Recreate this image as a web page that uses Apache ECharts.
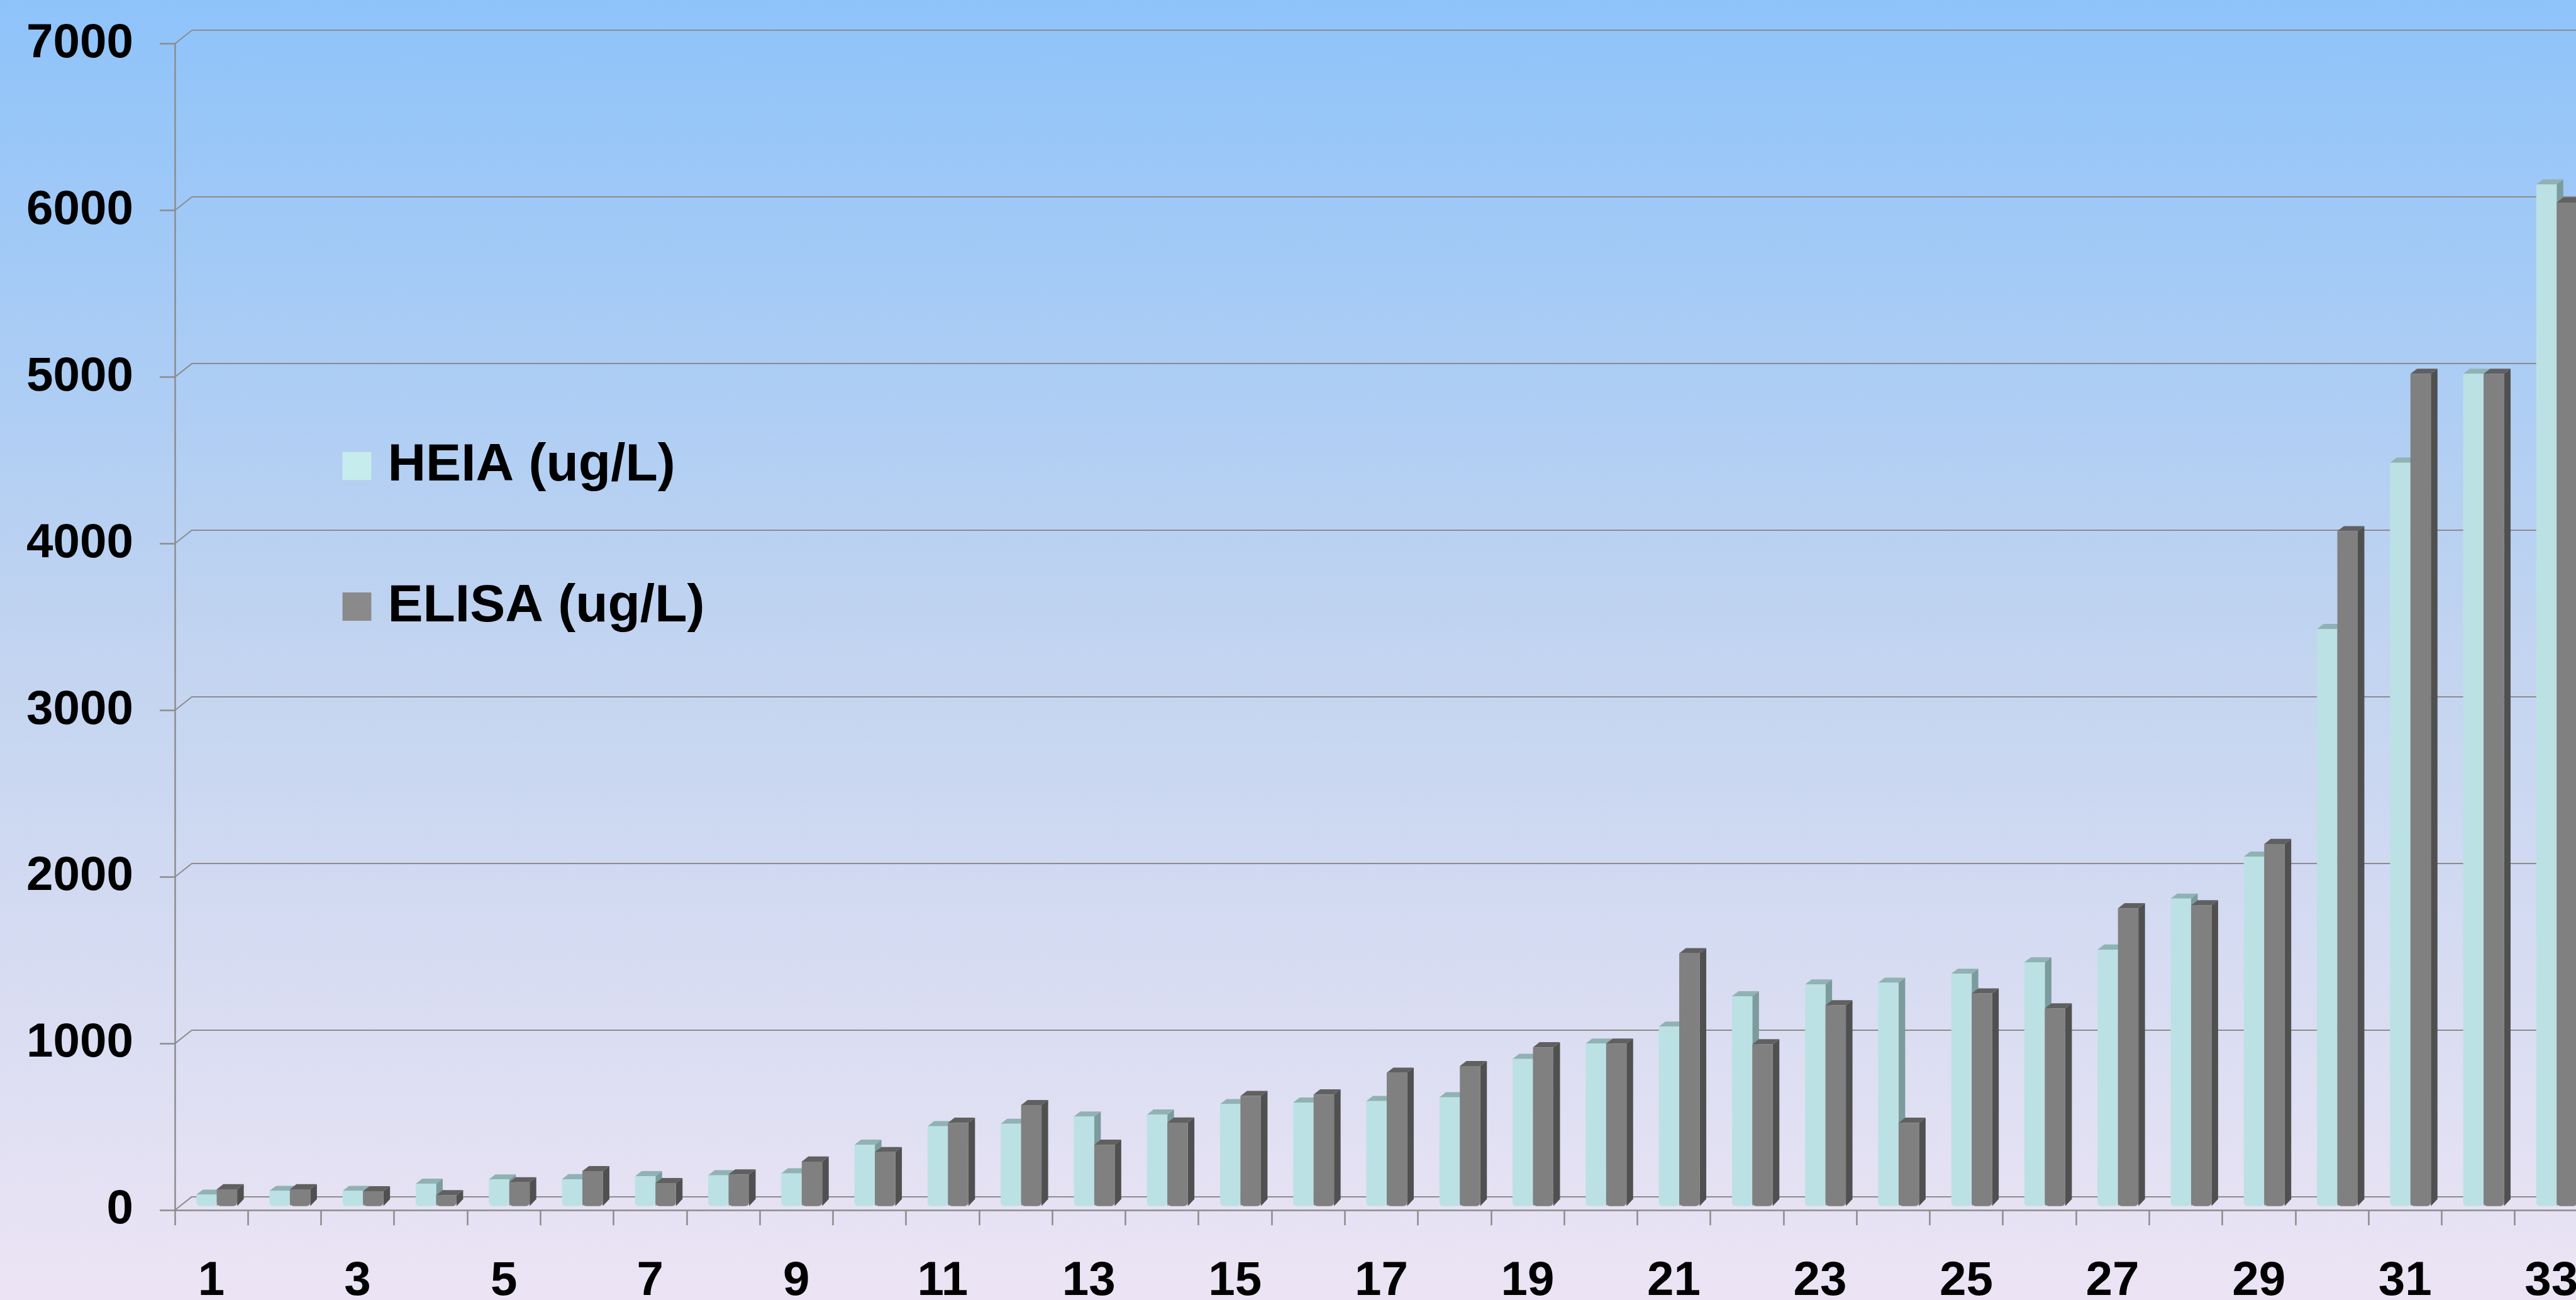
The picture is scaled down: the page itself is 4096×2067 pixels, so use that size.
<!DOCTYPE html>
<html><head><meta charset="utf-8">
<script src="https://cdn.jsdelivr.net/npm/echarts@6/dist/echarts.min.js"></script>
<style>html,body{margin:0;padding:0;overflow:hidden;background:#fff}#c{width:4096px;height:2067px}</style>
</head><body><div id="c"></div>
<script>
// ---- data ----
const categories = ['1','2','3','4','5','6','7','8','9','10','11','12','13','14','15','16','17','18','19','20','21','22','23','24','25','26','27','28','29','30','31','32','33'];
const heiaValues  = [68, 91, 91, 134, 160, 161, 179, 185, 196, 368, 479, 494, 537, 549, 612, 621, 630, 653, 883, 975, 1077, 1259, 1330, 1340, 1394, 1463, 1539, 1845, 2097, 3463, 4461, 4995, 6131];
const elisaValues = [101, 101, 89, 65, 143, 210, 138, 190, 267, 324, 500, 606, 368, 501, 661, 670, 800, 840, 953, 975, 1517, 971, 1205, 500, 1276, 1186, 1787, 1805, 2173, 4050, 4995, 4995, 6023];
const yTicks = [0, 1000, 2000, 3000, 4000, 5000, 6000, 7000];
const seriesNames = ['HEIA (ug/L)', 'ELISA (ug/L)'];

// ---- layout / style ----
const S = 0.955;
const W = 4096, H = 2067;
const FRONT = { left: 291 * S, top: 73 * S, width: 33 * 121.75 * S, height: (2015 - 73) * S };
const BACK_DX = 29 * S, BACK_DY = -23 * S;
const BAR_DX = 9 * S, BAR_DY = -7 * S;
const DEPTH_DX = 11 * S, DEPTH_DY = -8.5 * S;
const BAR_W_RATIO = 34 / 121.75;
const LINE_COLOR = '#8c8c8c';
const FONT = 'Liberation Sans, Arial, sans-serif';

const heiaColors  = { front: '#bbe1e4', top: '#90b2b3', side: '#7b9b9c' };
const elisaColors = { front: '#808080', top: '#606060', side: '#505050' };

function barRenderer(sideIdx, colors) {
  return function (params, api) {
    const ci = api.value(0), v = api.value(1);
    const base = api.coord([ci, 0]);
    const top = api.coord([ci, v]);
    const band = api.size([1, 0])[0];
    const w = band * BAR_W_RATIO;
    const cx = base[0] + BAR_DX;
    const x0 = sideIdx === 0 ? cx - w : cx;
    const x1 = x0 + w;
    const yb = base[1] + BAR_DY;
    const yt = top[1] + BAR_DY;
    return {
      type: 'group',
      children: [
        { type: 'polygon', shape: { points: [[x1, yt], [x1 + DEPTH_DX, yt + DEPTH_DY], [x1 + DEPTH_DX, yb + DEPTH_DY - 3], [x1, yb]] }, style: { fill: colors.side } },
        { type: 'polygon', shape: { points: [[x0, yt], [x1, yt], [x1 + DEPTH_DX, yt + DEPTH_DY], [x0 + DEPTH_DX, yt + DEPTH_DY]] }, style: { fill: colors.top } },
        { type: 'rect', shape: { x: x0, y: yt, width: w, height: yb - yt, r: [0, 0, 6, 6] }, style: { fill: colors.front } }
      ]
    };
  };
}

const chart = echarts.init(document.getElementById('c'), null, { renderer: 'canvas', width: W, height: H });
const labelStyle = { fontSize: 80 * S, fontWeight: 'bold', fontFamily: FONT, color: '#000' };

chart.setOption({
  animation: false,
  graphic: [{
    type: 'rect', z: -10, silent: true,
    shape: { x: 0, y: 0, width: W, height: H },
    style: { fill: { type: 'linear', x: 0, y: 0, x2: 0, y2: 1, colorStops: [
      { offset: 0, color: '#8ec3fa' }, { offset: 0.5, color: '#c2d4f0' }, { offset: 1, color: '#ece4f4' } ] } }
  }],
  legend: {
    orient: 'vertical', left: 565 * S, top: 735 * S - 44 * S + 34,
    itemWidth: 48 * S, itemHeight: 47 * S, itemGap: 229 * S - 88 * S + 5,
    icon: 'rect', selectedMode: false,
    textStyle: { fontSize: 88 * S, fontWeight: 'bold', fontFamily: FONT, color: '#000', padding: [0, 0, 0, 22 * S] },
    data: seriesNames
  },
  grid: [
    { left: FRONT.left, top: FRONT.top, width: FRONT.width, height: FRONT.height, containLabel: false, outerBoundsMode: 'none' },
    { left: FRONT.left + BACK_DX, top: FRONT.top + BACK_DY, width: FRONT.width, height: FRONT.height, containLabel: false, outerBoundsMode: 'none' }
  ],
  xAxis: [
    { gridIndex: 0, type: 'category', data: categories, boundaryGap: true,
      axisLine: { show: true, lineStyle: { color: LINE_COLOR, width: 2.5 } },
      axisTick: { show: true, interval: 0, length: 25 * S, lineStyle: { color: LINE_COLOR, width: 2.5 } },
      axisLabel: Object.assign({ interval: 1, margin: 76, hideOverlap: false }, labelStyle),
      splitLine: { show: false } },
    { gridIndex: 1, type: 'category', data: categories, show: false }
  ],
  yAxis: [
    { gridIndex: 0, type: 'value', min: 0, max: 7000, interval: 1000,
      axisLine: { show: true, lineStyle: { color: LINE_COLOR, width: 2.5 } },
      axisTick: { show: true, length: 25 * S, lineStyle: { color: LINE_COLOR, width: 2.5 } },
      axisLabel: Object.assign({ margin: 66, padding: [20, 0, 0, 0], formatter: v => String(v) }, labelStyle),
      splitLine: { show: false } },
    { gridIndex: 1, type: 'value', min: 0, max: 7000, interval: 1000,
      axisLine: { show: false }, axisTick: { show: false }, axisLabel: { show: false },
      splitLine: { show: true, lineStyle: { color: LINE_COLOR, width: 2 } } }
  ],
  series: [
    { name: 'connectors', type: 'custom', xAxisIndex: 0, yAxisIndex: 0, silent: true, z: 1,
      data: yTicks.map(v => [0, v]),
      renderItem: function (params, api) {
        const p = api.coord([0, api.value(1)]);
        const band = api.size([1, 0])[0];
        const x = p[0] - band / 2;
        return { type: 'line', shape: { x1: x, y1: p[1], x2: x + BACK_DX, y2: p[1] + BACK_DY }, style: { stroke: LINE_COLOR, lineWidth: 2 } };
      } },
    { name: seriesNames[0], type: 'custom', xAxisIndex: 0, yAxisIndex: 0, z: 3,
      itemStyle: { color: '#c6ecee' },
      data: heiaValues.map((v, i) => [i, v]),
      renderItem: barRenderer(0, heiaColors) },
    { name: seriesNames[1], type: 'custom', xAxisIndex: 0, yAxisIndex: 0, z: 4,
      itemStyle: { color: '#8a8a8a' },
      data: elisaValues.map((v, i) => [i, v]),
      renderItem: barRenderer(1, elisaColors) }
  ]
});
</script></body></html>
